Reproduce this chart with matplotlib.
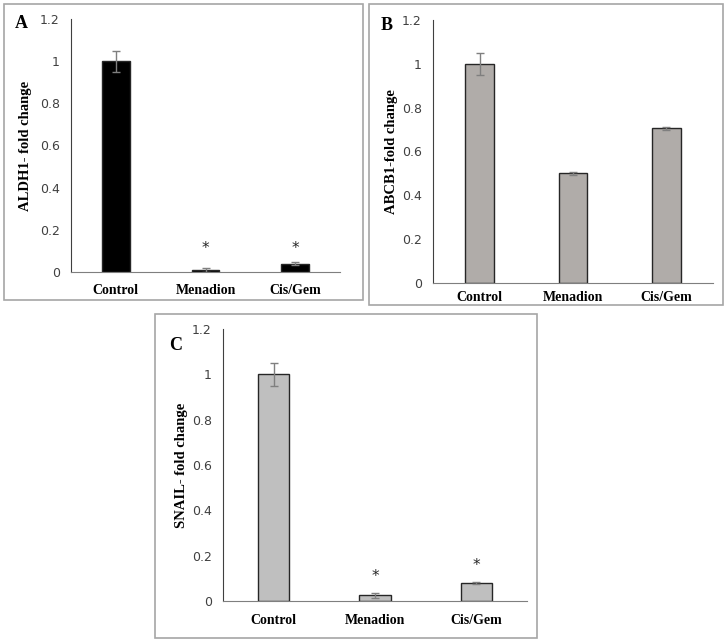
import numpy as np
import matplotlib
matplotlib.use("Agg")
import matplotlib.pyplot as plt
from matplotlib.patches import Rectangle

# data
groups = ["Control", "Menadion", "Cis/Gem"]

aldh1 = [1.0, 0.01, 0.04]
aldh1_err = [0.05, 0.01, 0.008]

abcb1 = [1.0, 0.5, 0.705]
abcb1_err = [0.05, 0.005, 0.008]

snail = [1.0, 0.025, 0.08]
snail_err = [0.05, 0.01, 0.005]

# asterisk heights (same units as y)
star_a = [None, 0.11, 0.11]
star_c = [None, 0.106, 0.158]

yticks = [0, 0.2, 0.4, 0.6, 0.8, 1, 1.2]
yticklabels = ["0", "0.2", "0.4", "0.6", "0.8", "1", "1.2"]

W, H = 725, 640
serif = ["Liberation Serif", "DejaVu Serif"]

fig = plt.figure(figsize=(W / 100, H / 100), dpi=100)


def px(l, t, r, b):
    # pixel box -> figure fraction rect
    return [l / W, 1 - b / H, (r - l) / W, (b - t) / H]


def frame(l, t, r, b):
    fig.patches.append(Rectangle((l / W, 1 - b / H), (r - l) / W, (b - t) / H,
                                 transform=fig.transFigure, fill=False,
                                 edgecolor="#a6a6a6", linewidth=1.2))


def panel(rect, vals, errs, color, ylabel, letter, letter_xy, ylab_x, stars=None, xpad=9):
    ax = fig.add_axes(rect)
    x = np.arange(len(groups))
    ax.bar(x, vals, width=0.31, color=color, edgecolor="#262626", linewidth=1.0,
           yerr=errs, error_kw=dict(ecolor="#7f7f7f", elinewidth=1.0, capsize=3, capthick=1.0),
           zorder=2)
    ax.set_xlim(-0.5, 2.5)
    ax.set_ylim(0, 1.2)
    ax.set_yticks(yticks)
    ax.set_yticklabels(yticklabels, fontsize=9, color="#404040")
    ax.set_xticks(x)
    ax.set_xticklabels(groups, fontsize=10, fontweight="bold", family=serif)
    ax.tick_params(axis="both", length=0)
    ax.tick_params(axis="x", pad=xpad)
    ax.tick_params(axis="y", pad=8)
    for s in ["top", "right"]:
        ax.spines[s].set_visible(False)
    ax.spines["left"].set_color("#404040")
    ax.spines["bottom"].set_color("#7f7f7f")
    ax.patch.set_alpha(0)
    if stars:
        for i, s in enumerate(stars):
            if s is not None:
                ax.text(i, s, "*", ha="center", va="center", fontsize=11, color="#262626")
    fig.text(ylab_x / W, rect[1] + rect[3] / 2, ylabel,
             rotation=90, ha="center", va="center", fontsize=10.5, fontweight="bold", family=serif)
    fig.text(letter_xy[0] / W, 1 - letter_xy[1] / H, letter, ha="center", va="center",
             fontsize=13, fontweight="bold", family=serif)
    return ax


frame(4, 4, 363, 300)
frame(369, 4, 723, 305)
frame(155, 314, 537, 638)

panel(px(71, 19, 340, 272), aldh1, aldh1_err, "black", "ALDH1- fold change",
      "A", (21, 24), 26, star_a)
panel(px(433, 20, 713, 283), abcb1, abcb1_err, "#b0aca9", "ABCB1-fold change",
      "B", (387, 25), 392, xpad=6)
panel(px(223, 329, 527, 601), snail, snail_err, "#bfbfbf", "SNAIL- fold change",
      "C", (176, 345), 181, star_c)

fig.savefig("out.png", dpi=100)
